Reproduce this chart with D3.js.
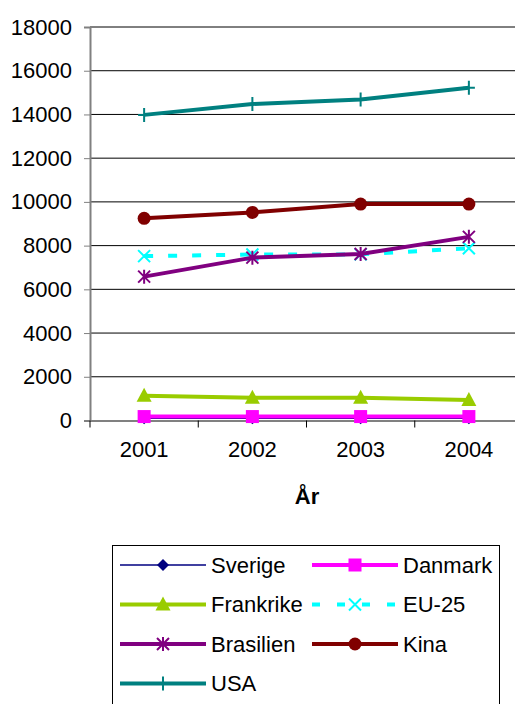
<!DOCTYPE html>
<html>
<head>
<meta charset="utf-8">
<script src="https://cdn.jsdelivr.net/npm/d3@7"></script>
<style>
  body { margin: 0; background: #fff; }
  text { font-family: "Liberation Sans", Arial, sans-serif; }
</style>
</head>
<body>
<div id="chart"></div>
<script>
// data
var years = ["2001", "2002", "2003", "2004"]
var yTicks = [0, 2000, 4000, 6000, 8000, 10000, 12000, 14000, 16000, 18000]
var sverige = [100, 100, 100, 100]
var danmark = [180, 180, 180, 180]
var frankrike = [1130, 1040, 1040, 940]
var eu25 = [7520, 7590, 7600, 7880]
var brasilien = [6580, 7450, 7620, 8400]
var kina = [9250, 9520, 9900, 9900]
var usa = [13980, 14480, 14680, 15220]

var series = [
  { name: "Sverige", values: sverige, color: "#000080", width: 1.5, marker: "diamond" },
  { name: "Danmark", values: danmark, color: "#FF00FF", width: 4, marker: "square" },
  { name: "Frankrike", values: frankrike, color: "#99CC00", width: 4, marker: "triangle" },
  { name: "EU-25", values: eu25, color: "#00FFFF", width: 4, marker: "x", dash: "9,15" },
  { name: "Brasilien", values: brasilien, color: "#800080", width: 4, marker: "star" },
  { name: "Kina", values: kina, color: "#800000", width: 4, marker: "circle" },
  { name: "USA", values: usa, color: "#008080", width: 4, marker: "plus" }
]

var width = 515
var height = 704

var svg = d3.select("#chart")
    .append("svg")
    .attr("width", width)
    .attr("height", height)

// scales
var x = d3.scaleBand()
    .domain(years)
    .range([90, 523])

var y = d3.scaleLinear()
    .domain([0, 18000])
    .range([420.5, 27])

// gridlines
svg.append("g")
    .selectAll("line")
    .data(yTicks.filter(function (d) { return d > 0 }))
    .enter()
    .append("line")
    .attr("x1", 90).attr("x2", width)
    .attr("y1", function (d) { return y(d) }).attr("y2", function (d) { return y(d) })
    .style("stroke", "#000").style("stroke-width", 1)

// y axis
var yAxis = svg.append("g")
    .attr("transform", "translate(90,0)")
    .call(d3.axisLeft(y).tickValues(yTicks).tickSize(6).tickPadding(12).tickFormat(d3.format("d")))
yAxis.select(".domain").style("stroke", "#808080").style("stroke-width", 2)
yAxis.selectAll(".tick line").style("stroke", "#808080").style("stroke-width", 1)
yAxis.selectAll("text").style("font-size", "22px").style("fill", "#000").attr("font-family", "Liberation Sans, Arial, sans-serif")

// x axis
var xAxis = svg.append("g")
    .attr("transform", "translate(0," + y(0) + ")")
    .call(d3.axisBottom(x).tickSize(0).tickPadding(21))
xAxis.select(".domain").style("stroke", "#808080").style("stroke-width", 2)
xAxis.selectAll("text").style("font-size", "22px").style("fill", "#000").attr("font-family", "Liberation Sans, Arial, sans-serif")

// category tick marks between years
svg.append("g")
    .selectAll("line")
    .data(years)
    .enter()
    .append("line")
    .attr("x1", function (d) { return x(d) }).attr("x2", function (d) { return x(d) })
    .attr("y1", y(0)).attr("y2", y(0) + 7)
    .style("stroke", "#000").style("stroke-width", 1)

svg.append("text")
    .attr("x", 307).attr("y", 504)
    .attr("text-anchor", "middle")
    .style("font-size", "22px").style("font-weight", "bold")
    .text("År")

function cx(d, i) { return x(years[i]) + x.bandwidth() / 2 }

// marker drawing
function drawMarker(g, s, px, py) {
  var c = s.color
  if (s.marker === "diamond") {
    g.append("path").attr("d", "M" + px + "," + (py - 6) + "L" + (px + 6) + "," + py + "L" + px + "," + (py + 6) + "L" + (px - 6) + "," + py + "Z").style("fill", c)
  } else if (s.marker === "square") {
    g.append("rect").attr("x", px - 6.5).attr("y", py - 6.5).attr("width", 13).attr("height", 13).style("fill", c)
  } else if (s.marker === "triangle") {
    g.append("path").attr("d", "M" + px + "," + (py - 8) + "L" + (px + 7.5) + "," + (py + 6) + "L" + (px - 7.5) + "," + (py + 6) + "Z").style("fill", c)
  } else if (s.marker === "circle") {
    g.append("circle").attr("cx", px).attr("cy", py).attr("r", 6.5).style("fill", c)
  } else if (s.marker === "x") {
    g.append("path").attr("d", "M" + (px - 6) + "," + (py - 6) + "L" + (px + 6) + "," + (py + 6) + "M" + (px + 6) + "," + (py - 6) + "L" + (px - 6) + "," + (py + 6))
      .style("stroke", c).style("stroke-width", 2)
  } else if (s.marker === "star") {
    g.append("path").attr("d", "M" + (px - 6) + "," + (py - 6) + "L" + (px + 6) + "," + (py + 6) + "M" + (px + 6) + "," + (py - 6) + "L" + (px - 6) + "," + (py + 6) + "M" + px + "," + (py - 7) + "L" + px + "," + (py + 7))
      .style("stroke", c).style("stroke-width", 2)
  } else if (s.marker === "plus") {
    g.append("path").attr("d", "M" + px + "," + (py - 7) + "L" + px + "," + (py + 7) + "M" + (px - 6) + "," + py + "L" + (px + 6) + "," + py)
      .style("stroke", c).style("stroke-width", 2)
  }
}

var line = d3.line()
    .x(cx)
    .y(function (d) { return y(d) })

// draw series
series.forEach(function (s) {
  var g = svg.append("g")
  g.append("path")
      .datum(s.values)
      .attr("d", line)
      .style("fill", "none")
      .style("stroke", s.color)
      .style("stroke-width", s.width)
      .style("stroke-dasharray", s.dash || null)
  s.values.forEach(function (v, i) {
    drawMarker(g, s, cx(v, i), y(v))
  })
})

// legend
var legend = svg.append("g")
legend.append("rect")
    .attr("x", 112.5).attr("y", 545.5)
    .attr("width", 387).attr("height", 170)
    .style("fill", "none").style("stroke", "#000").style("stroke-width", 1)

series.forEach(function (s, i) {
  var col = i % 2
  var row = Math.floor(i / 2)
  var lx = col === 0 ? 120 : 312
  var ly = 565 + row * 39.5
  var g = legend.append("g")
  g.append("line")
      .attr("x1", lx).attr("x2", lx + 86)
      .attr("y1", ly).attr("y2", ly)
      .style("stroke", s.color)
      .style("stroke-width", s.width)
      .style("stroke-dasharray", s.dash ? "8,17" : null)
  drawMarker(g, s, lx + 43, ly)
  g.append("text")
      .attr("x", lx + 91).attr("y", ly)
      .attr("dy", "0.35em")
      .style("font-size", "22px")
      .text(s.name)
})
</script>
</body>
</html>
